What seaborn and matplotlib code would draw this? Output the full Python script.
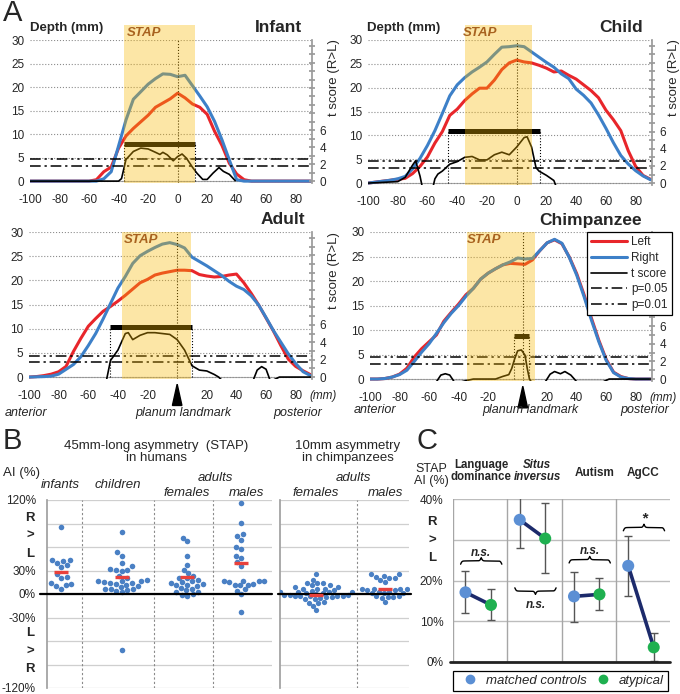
import numpy as np
import pandas as pd
import matplotlib
matplotlib.use("Agg")
import matplotlib.pyplot as plt
import matplotlib.transforms as mtransforms
from matplotlib.lines import Line2D
from matplotlib.patches import Rectangle, Polygon
import seaborn as sns
import warnings

warnings.filterwarnings("ignore")

# ---------------- Panel A: sulcal depth profiles (mm) ----------------
depth_mm = [-100, -95, -90, -85, -80, -75, -70, -65, -60, -55, -50, -45, -40, -35, -30,
            -25, -20, -15, -10, -5, 0, 5, 10, 15, 20, 25, 30, 35, 40, 45, 50, 55, 60,
            65, 70, 75, 80, 85, 90]

infant_left = [0, 0, 0, 0, 0, 0, 0, 0, 0, 0.3, 2.0, 3.0, 7.0, 9.6, 11.2, 12.6, 14.0, 15.7,
               16.6, 17.5, 18.7, 17.7, 16.4, 15.7, 14.2, 10.6, 7.6, 3.8, 1.5, 0.3, 0, 0, 0,
               0, 0, 0, 0, 0, 0]
infant_right = [0, 0, 0, 0, 0, 0, 0, 0, 0, 0, 0.5, 2.0, 7.5, 13.0, 17.4, 19.0, 20.6, 21.8,
                22.8, 22.7, 22.2, 22.5, 20.3, 18.1, 15.8, 12.7, 8.8, 4.5, 0.3, 0, 0, 0, 0,
                0, 0, 0, 0, 0, 0]
child_left = [0, 0.2, 0.4, 0.6, 0.8, 1.0, 2.0, 3.5, 5.5, 8.4, 10.8, 14.2, 15.5, 17.3, 18.7,
              19.9, 19.9, 21.6, 23.8, 25.2, 25.8, 25.4, 25.2, 24.7, 24.1, 23.3, 23.5, 22.6,
              21.8, 20.6, 19.4, 17.9, 15.3, 13.3, 11.0, 6.8, 3.5, 1.6, 0.8]
child_right = [0, 0.2, 0.4, 0.6, 0.9, 1.4, 3.0, 5.2, 7.9, 11.0, 14.6, 18.3, 20.6, 22.1, 23.3,
               24.3, 25.4, 27.0, 28.5, 28.6, 28.8, 28.6, 27.5, 26.4, 25.3, 24.3, 22.9, 21.9,
               19.7, 18.4, 16.8, 14.3, 11.5, 8.5, 5.8, 4.0, 2.6, 1.5, 0.7]
adult_left = [0, 0.1, 0.3, 0.6, 1.1, 2.2, 5.3, 8.0, 10.5, 12.1, 13.6, 14.6, 15.7, 16.9, 18.2,
              19.5, 20.2, 21.1, 21.5, 21.8, 22.1, 22.1, 22.0, 21.2, 20.9, 20.7, 20.8, 21.1,
              21.3, 19.5, 17.3, 14.9, 12.2, 9.5, 6.5, 3.7, 2.2, 1.3, 0.5]
adult_right = [0, 0.05, 0.1, 0.2, 0.6, 1.6, 2.6, 4.2, 6.5, 9.0, 12.0, 15.2, 18.4, 20.8, 23.5,
               25.1, 26.0, 26.8, 27.5, 27.8, 27.4, 26.7, 24.8, 23.9, 23.0, 22.0, 21.0, 19.8,
               18.8, 18.1, 16.8, 14.9, 12.3, 9.6, 7.2, 4.8, 2.8, 1.1, 0.3]
chimp_left = [0, 0, 0.1, 0.4, 1.0, 2.2, 4.5, 6.2, 7.6, 9.0, 11.8, 13.6, 15.3, 17.2, 18.5,
              20.4, 21.6, 22.5, 23.3, 23.6, 23.5, 23.4, 24.3, 26.2, 27.8, 28.4, 27.6, 24.9,
              21.5, 17.2, 12.4, 7.9, 4.0, 1.4, 0.5, 0.1, 0, 0, 0]
chimp_right = [0, 0, 0.1, 0.4, 0.9, 1.8, 3.6, 5.5, 7.2, 9.3, 11.5, 13.4, 15.0, 16.9, 18.5,
               20.4, 21.6, 22.5, 23.3, 23.9, 24.7, 24.5, 24.6, 26.2, 27.8, 28.5, 27.7, 24.8,
               21.2, 16.8, 12.0, 7.6, 3.8, 1.3, 0.4, 0.1, 0, 0, 0]

# t score (R>L) curves
infant_t_x = [-100, -40, -38, -35, -30, -25, -20, -15, -12, -10, -7, -3, 0, 3, 6, 10, 13,
              17, 20, 24, 28, 31, 35, 39]
infant_t = [0, 0, 0.3, 2.55, 3.5, 3.9, 3.8, 3.4, 3.15, 3.4, 3.1, 2.4, 2.9, 3.2, 2.7, 1.65,
            0.95, 0.2, 0.2, 0.95, 1.6, 1.15, 0.8, 0.05]
child_t_x = [-100, -80, -75, -70, -68, -65, -62, -58, -55, -53, -50, -45, -40, -35, -30,
             -25, -20, -15, -10, -5, 0, 5, 7, 10, 13, 15, 20, 25, 27]
child_t = [0, 0.17, 0.67, 2.1, 2.6, 0.8, -1.7, -1.7, 0.5, 1.05, 1.4, 2.2, 2.5, 3.0, 3.1,
           2.7, 2.7, 3.3, 3.6, 3.3, 4.2, 5.3, 5.4, 4.2, 1.8, 1.4, 0.9, 0.3, -0.6]
adult_t_x = [-48, -45, -40, -35, -33, -30, -25, -20, -15, -10, -5, 0, 5, 10, 15, 20, 25,
             28, 31, 51, 54, 57, 60, 63, 69, 90]
adult_t = [-0.6, 1.9, 3.1, 5.0, 5.1, 4.3, 4.8, 5.1, 5.1, 5.0, 4.9, 4.3, 3.1, 1.3, 0.8, 0.7,
           0.3, 0, -0.5, -0.5, 0.8, 1.2, 0.9, -0.5, 0, 0]
chimp_t_x = [-55, -52, -49, -46, -43, -38, -30, -15, -10, -6, -4, -2, 0, 2.5, 5, 6.5, 8,
             10, 18, 22, 25, 29, 32, 36, 40, 58, 62, 90]
chimp_t = [-0.3, 0.45, 0.6, 0.45, -0.3, -0.3, 0, 0, 0.3, 0.5, 1.2, 2.3, 3.2, 3.3, 2.7, 1.2,
           0, -0.5, -0.5, 0.55, 0.85, 0.6, 0.85, 0.45, -0.3, -0.3, 0, 0]

# STAP region, significant cluster (t level and extent), landmark, thresholds
stap_span = {"infant": (-36, 12), "child": (-35, 10), "adult": (-37, 9), "chimp": (-34, 11.5)}
cluster_t = {"infant": 4.4, "child": 6.05, "adult": 5.7, "chimp": 4.9}
cluster_span = {"infant": (-36, 12), "child": (-46, 16), "adult": (-45, 10), "chimp": (-2.5, 7.5)}
landmark_mm = {"infant": 0, "child": 0, "adult": 0, "chimp": 3.5}
p05_t = {"infant": 1.75, "child": 1.75, "adult": 1.7, "chimp": 1.72}
p01_t = {"infant": 2.67, "child": 2.58, "adult": 2.45, "chimp": 2.47}

# ---------------- Panel B: asymmetry index (%) ----------------
b_infants = [86, 43, 42, 43, 39, 37, 34, 25, 22, 20, 14, 13, 12, 10, 7]
b_children = [79, 53, 49, 40, 36, 31, 31, 32, 30, 23, 20, 18, 17, 16, 16, 15, 14, 14, 13,
              12, 10, 9, 7, 7, 7, 5, 4, 2, -71]
b_adult_f = [72, 68, 48, 37, 31, 27, 23, 21, 20, 18, 16, 15, 14, 13, 12, 12, 10, 8, 7, 5, 3,
             2, 0, -1, -2]
b_adult_m = [116, 91, 77, 74, 69, 60, 57, 49, 46, 41, 36, 17, 17, 16, 15, 16, 12, 11, 13, 12,
             6, 4, 0, -23]
b_chimp_f = [26, 18, 14, 14, 14, 11, 9, 9, 7, 7, 11, 7, 5, 4, 3, 3, 3, 3, 2, 1, 1, 0, -1, -1,
             -1, -2, -2, -3, -3, -3, -4, -4, -5, -6, -7, -10, -11, -12, -15, -21]
b_chimp_m = [26, 25, 23, 22, 21, 20, 18, 15, 7, 7, 7, 6, 6, 5, 5, 3, 3, 1, 1, 1, -3, -3, -4,
             -4, -5, -10]
human_means = [28, 22, 22, 39]
chimp_means = [-1, 6]

# ---------------- Panel C: STAP AI (%) ----------------
c_groups = ["Language\ndominance", "Situs\ninversus", "Autism", "AgCC"]
ctrl_mean = [17.1, 34.9, 16.1, 23.6]
ctrl_lo = [12.0, 27.9, 9.9, 16.3]
ctrl_hi = [22.4, 41.7, 22.0, 30.9]
atyp_mean = [14.0, 30.3, 16.6, 3.6]
atyp_lo = [10.2, 21.8, 12.8, 0.3]
atyp_hi = [18.0, 39.0, 20.5, 7.1]
c_tests = ["n.s.", "n.s.", "n.s.", "*"]

# ---------------- style ----------------
sns.set_theme(style="white")
plt.rcParams["font.family"] = ["Liberation Sans", "DejaVu Sans"]
plt.rcParams["axes.unicode_minus"] = False

RED = "#e8262b"
BLUE = "#3d80c8"
SHADE = "#f9b800"
DOT_BLUE = "#4a80c4"
MEAN_RED = "#e8413c"
C_BLUE = "#5b8fd4"
C_GREEN = "#1fb050"
NAVY = "#1c2a6b"
T_SCALE = 1.8
P05_STYLE = (0, (7, 2.5, 1.5, 2.5))
P01_STYLE = (0, (7, 2.5, 1.5, 2.5, 1.5, 2.5))

W, H = 680, 694
fig = plt.figure(figsize=(W / 100, H / 100), dpi=100)


def px_axes(l, t, r, b):
    return fig.add_axes([l / W, 1 - b / H, (r - l) / W, (b - t) / H])


def ftext(x, y, s, **kw):
    kw.setdefault("ha", "center")
    kw.setdefault("va", "center")
    fig.text(x / W, 1 - y / H, s, **kw)


def profile_panel(rect, key, left, right, t_x, t_val, shade_top, bottom_row, t_label):
    ax = px_axes(*rect)
    sns.lineplot(x=depth_mm, y=left, ax=ax, color=RED, linewidth=2.2, estimator=None, sort=False)
    sns.lineplot(x=depth_mm, y=right, ax=ax, color=BLUE, linewidth=2.2, estimator=None, sort=False)
    ax.set_xlim(-100, 91)
    ax.set_ylim(-0.4, 30)
    ax.set_yticks([0, 5, 10, 15, 20, 25, 30])
    ax.set_xticks([-100, -80, -60, -40, -20, 0, 20, 40, 60, 80])
    ax.yaxis.grid(True, linestyle=":", color="#8c8c8c", linewidth=0.8)
    ax.set_axisbelow(True)
    ax.axhline(0, color="#a8a8a8", lw=0.8, zorder=0.5)
    for s in ax.spines.values():
        s.set_visible(False)
    ax.tick_params(axis="both", length=0, labelsize=8.5)
    ax.tick_params(axis="x", pad=8)
    ax.tick_params(axis="y", pad=4)
    ax.set_xlabel("")
    ax.set_ylabel("")

    ax2 = ax.twinx()
    ax2.set_ylim(-0.4 / T_SCALE, 30 / T_SCALE)
    ax2.plot(t_x, t_val, color="black", lw=1.2)
    ax2.axhline(p05_t[key], color="black", lw=1.1, ls=P05_STYLE)
    ax2.axhline(p01_t[key], color="black", lw=1.1, ls=P01_STYLE)
    x0, x1 = cluster_span[key]
    ax2.plot([x0, x1], [cluster_t[key], cluster_t[key]], color="black", lw=3.6,
             solid_capstyle="butt")
    for xe in (x0, x1):
        ax2.plot([xe, xe], [0, cluster_t[key]], color="black", lw=0.8, ls=":")
    ax2.axvline(landmark_mm[key], color="black", lw=0.8, ls=":")
    trans = mtransforms.blended_transform_factory(ax2.transData, ax2.transAxes)
    s0, s1 = stap_span[key]
    ax2.add_patch(Rectangle((s0, 0), s1 - s0, shade_top, transform=trans, facecolor=SHADE,
                            alpha=0.35, lw=0, zorder=10, clip_on=False))
    ax2.set_yticks(range(0, 17))
    ax2.set_yticklabels([str(v) if v in (0, 2, 4, 6) else "" for v in range(17)])
    ax2.tick_params(axis="y", direction="inout", length=5, color="#9a9a9a", labelsize=8.5, pad=3)
    for k in ("top", "left", "bottom"):
        ax2.spines[k].set_visible(False)
    ax2.spines["right"].set_color("#9a9a9a")
    if t_label:
        ax2.set_ylabel("t score (R>L)", fontsize=9.5)
        ax2.yaxis.set_label_coords(1.055, 0.74)

    if bottom_row:
        ax.set_xticklabels(["-100", "-80", "-60", "-40", "-20", "", "20", "40", "60", "80"])
        tr = mtransforms.blended_transform_factory(ax.transData, ax.transAxes)
        lm = landmark_mm[key]
        ax.add_patch(Polygon([(lm - 3.2, -0.18), (lm + 3.2, -0.18), (lm, -0.035)], closed=True,
                             transform=tr, color="black", clip_on=False))
        ax.text(1.04, -0.116, "(mm)", transform=ax.transAxes, ha="center", va="center",
                fontsize=8.5, fontstyle="italic")
    return ax


profile_panel((30, 40, 312, 183), "infant", infant_left, infant_right, infant_t_x, infant_t,
              1.105, False, True)
profile_panel((368, 40, 652, 185), "child", child_left, child_right, child_t_x, child_t,
              1.105, False, True)
profile_panel((29, 232, 312, 379), "adult", adult_left, adult_right, adult_t_x, adult_t,
              1.0, True, True)
profile_panel((370, 232, 652, 381), "chimp", chimp_left, chimp_right, chimp_t_x, chimp_t,
              1.0, True, False)

ftext(3, 13, "A", fontsize=21, ha="left")
for x, y in [(30, 28), (367, 28)]:
    ftext(x, y, "Depth (mm)", fontsize=9.5, fontweight="bold", ha="left")
for x, y, s in [(302, 28, "Infant"), (643, 28, "Child"), (305, 220, "Adult"), (642, 220, "Chimpanzee")]:
    ftext(x, y, s, fontsize=12.5, fontweight="bold", ha="right")
stap_color = "#a8621f"
for x, y in [(127, 33), (463, 33), (124, 240), (467, 240)]:
    ftext(x, y, "STAP", fontsize=9.5, fontweight="bold", fontstyle="italic", color=stap_color, ha="left")
for x, y, s in [(26, 413, "anterior"), (183, 413, "planum landmark"), (298, 413, "posterior"),
                (375, 410, "anterior"), (530, 410, "planum landmark"), (645, 410, "posterior")]:
    ftext(x, y, s, fontsize=9, fontstyle="italic")

legend_handles = [
    Line2D([], [], color=RED, lw=2.2, label="Left"),
    Line2D([], [], color=BLUE, lw=2.2, label="Right"),
    Line2D([], [], color="black", lw=1.2, label="t score"),
    Line2D([], [], color="black", lw=1.1, ls=P05_STYLE, label="p=0.05"),
    Line2D([], [], color="black", lw=1.1, ls=P01_STYLE, label="p=0.01"),
]
leg = fig.legend(handles=legend_handles, loc="upper right", bbox_to_anchor=(672 / W, 1 - 232 / H),
                 frameon=True, fancybox=False, edgecolor="black", framealpha=1, fontsize=8.5,
                 handlelength=3.0, labelspacing=0.32, borderpad=0.35, handletextpad=0.4,
                 borderaxespad=0)
leg.get_frame().set_linewidth(0.9)

# ---------------- Panel B ----------------
HUMAN_POS = [0.16, 0.83, 1.56, 2.16]
HUMAN_SEP = [0.39, 1.19, 1.84]
CHIMP_POS = [0.40, 1.17]
CHIMP_SEP = [0.86]

bh = px_axes(47, 500, 272, 688)
bc = px_axes(280, 500, 409, 688)
for ax, xmax, seps in [(bh, 2.5, HUMAN_SEP), (bc, 1.433, CHIMP_SEP)]:
    ax.set_xlim(0, xmax)
    ax.set_ylim(-120, 120)
    ax.set_yticks([-120, -90, -60, -30, 0, 30, 60, 90, 120])
    ax.yaxis.grid(True, color="#cfcfcf", linewidth=0.9)
    ax.set_axisbelow(True)
    for s in ("top", "right", "bottom"):
        ax.spines[s].set_visible(False)
    ax.spines["left"].set_color("#a0a0a0")
    ax.set_xticks([])
    for sp in seps:
        ax.axvline(sp, color="#8a8a8a", lw=0.8, ls=(0, (2, 2)))

for pos, vals in zip(HUMAN_POS, [b_infants, b_children, b_adult_f, b_adult_m]):
    sns.swarmplot(x=[pos] * len(vals), y=vals, native_scale=True, orient="x", color=DOT_BLUE,
                  size=4.0, ax=bh, zorder=3)
for pos, vals in zip(CHIMP_POS, [b_chimp_f, b_chimp_m]):
    sns.swarmplot(x=[pos] * len(vals), y=vals, native_scale=True, orient="x", color=DOT_BLUE,
                  size=3.8, ax=bc, zorder=3)
sns.scatterplot(x=HUMAN_POS, y=human_means, marker="_", s=100, linewidth=2.4, color=MEAN_RED,
                ax=bh, zorder=5, legend=False)
sns.scatterplot(x=CHIMP_POS, y=chimp_means, marker="_", s=100, linewidth=2.4, color=MEAN_RED,
                ax=bc, zorder=5, legend=False)
bh.set_xlim(0, 2.5)
bc.set_xlim(0, 1.433)
bh.axhline(0, color="black", lw=1.6, xmin=-0.03, xmax=1.0, clip_on=False, zorder=4)
bc.axhline(0, color="black", lw=1.6, xmin=-0.015, xmax=1.015, clip_on=False, zorder=4)
bh.set_yticklabels(["-120%", "", "", "-30%", "0%", "30%", "", "", "120%"])
bh.tick_params(axis="y", length=6, color="#b0b0b0", labelsize=8.5, pad=2)
bc.tick_params(axis="y", length=0, labelleft=False)
for ax in (bh, bc):
    ax.set_xlabel("")
    ax.set_ylabel("")

ftext(3, 441, "B", fontsize=21, ha="left")
ftext(3, 473, "AI (%)", fontsize=9.5, ha="left")
ftext(156, 452, "45mm-long asymmetry  (STAP)\nin humans", fontsize=9.5, linespacing=1.05)
ftext(348, 452, "10mm asymmetry\nin chimpanzees", fontsize=9.5, linespacing=1.05)
for x, y, s in [(60, 485, "infants"), (118, 485, "children"), (215, 478, "adults"),
                (187, 493, "females"), (246, 493, "males"), (353, 478, "adults"),
                (316, 493, "females"), (385, 493, "males")]:
    ftext(x, y, s, fontsize=9.5, fontstyle="italic")
for y, s in [(518, "R"), (536, ">"), (554, "L"), (633, "L"), (652, ">"), (669, "R")]:
    ftext(30, y, s, fontsize=9.5, fontweight="bold")

# ---------------- Panel C ----------------
OFFSET = {"matched controls": -0.27, "atypical": 0.2}
rows = []
for i, g in enumerate(c_groups):
    rows.append({"group": g, "kind": "matched controls", "pos": i + OFFSET["matched controls"],
                 "value": ctrl_mean[i], "lo": ctrl_lo[i], "hi": ctrl_hi[i]})
    rows.append({"group": g, "kind": "atypical", "pos": i + OFFSET["atypical"],
                 "value": atyp_mean[i], "lo": atyp_lo[i], "hi": atyp_hi[i]})
dfc = pd.DataFrame(rows)

cx = px_axes(453, 499, 670, 662)
cx.set_xlim(-0.5, 3.5)
cx.set_ylim(0, 40)
cx.set_yticks([0, 10, 20, 30, 40])
cx.set_yticklabels(["0%", "10%", "20%", "", "40%"])
cx.yaxis.grid(True, color="#bdbdbd", linewidth=1)
cx.set_axisbelow(True)
for s in cx.spines.values():
    s.set_visible(False)
cx.set_xticks([])
cx.tick_params(axis="y", length=3, color="#a0a0a0", labelsize=8.5, pad=4)
for sp in [-0.5, 0.5, 1.5, 2.5]:
    cx.axvline(sp, color="#a6a6a6", lw=1)
cx.axhline(0, color="#222222", lw=2, xmin=-0.015, clip_on=False, zorder=4)

cx.errorbar(dfc["pos"], dfc["value"], yerr=[dfc["value"] - dfc["lo"], dfc["hi"] - dfc["value"]],
            fmt="none", ecolor="#555555", elinewidth=1, capsize=3, capthick=1, zorder=2)
sns.lineplot(data=dfc, x="pos", y="value", units="group", estimator=None, sort=False,
             color=NAVY, linewidth=2.6, ax=cx, legend=False, zorder=3)
sns.scatterplot(data=dfc, x="pos", y="value", hue="kind",
                palette={"matched controls": C_BLUE, "atypical": C_GREEN}, s=75,
                edgecolor="none", ax=cx, legend=False, zorder=5)
cx.set_xlabel("")
cx.set_ylabel("")
cx.set_xlim(-0.5, 3.5)


def curly_brace(ax, x0, x1, y, height, upward=True):
    u = np.linspace(0, 1, 201)
    half = u[:101]
    beta = 60.0
    shape = 1 / (1 + np.exp(-beta * (half - half[0]))) + 1 / (1 + np.exp(-beta * (half - half[-1])))
    shape = np.concatenate([shape, shape[-2::-1]])
    shape = (shape - shape[0]) / (shape.max() - shape[0])
    xs = x0 + (x1 - x0) * u
    ys = y + (height if upward else -height) * shape
    ax.plot(xs, ys, color="black", lw=1.0, clip_on=False, zorder=6)


brace_y = [24.0, 18.2, 24.3, 32.2]
brace_up = [True, False, True, True]
test_y = [26.8, 13.9, 27.2, 35.2]
for i in range(4):
    curly_brace(cx, i - 0.36, i + 0.4, brace_y[i], 1.6, brace_up[i])
    cx.text(i + 0.02, test_y[i], c_tests[i], ha="center", va="center",
            fontsize=11 if c_tests[i] == "*" else 8.5, fontweight="bold", fontstyle="italic")

ftext(417, 441, "C", fontsize=21, ha="left")
ftext(431, 475, "STAP\nAI (%)", fontsize=9, linespacing=1.1)
for y, s in [(522, "R"), (541, ">"), (558, "L")]:
    ftext(432, y, s, fontsize=9.5, fontweight="bold")
ftext(481, 471, "Language\ndominance", fontsize=8.3, fontweight="bold", linespacing=1.05)
ftext(537, 471, "Situs\ninversus", fontsize=8.3, fontweight="bold", fontstyle="italic", linespacing=1.05)
ftext(595, 473, "Autism", fontsize=8.5, fontweight="bold")
ftext(643, 473, "AgCC", fontsize=8.5, fontweight="bold")

c_handles = [
    Line2D([], [], marker="o", ls="", color=C_BLUE, ms=6, label="matched controls"),
    Line2D([], [], marker="o", ls="", color=C_GREEN, ms=6, label="atypical"),
]
cleg = fig.legend(handles=c_handles, loc="lower left", ncol=2, mode="expand",
                  bbox_to_anchor=(453 / W, 1 - 691 / H, 215 / W, 23 / H), frameon=True,
                  fancybox=False, edgecolor="black", framealpha=1,
                  prop={"size": 9.5, "style": "italic"}, handletextpad=0.2, borderaxespad=0,
                  borderpad=0.3, columnspacing=1.0)
cleg.get_frame().set_linewidth(0.9)

fig.savefig("out.png", dpi=100)
